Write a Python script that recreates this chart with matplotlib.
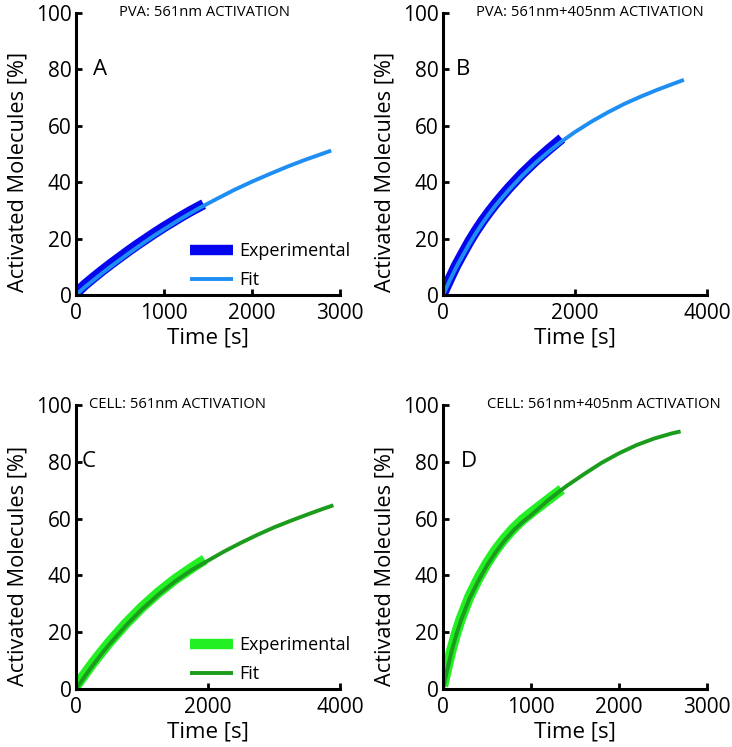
import matplotlib
matplotlib.use("Agg")
import matplotlib.pyplot as plt

plt.rcParams['font.family'] = ['Open Sans', 'DejaVu Sans']

# ---- data ----
# Panel A (PVA 561nm)
a_exp_t = [0, 100, 200, 300, 400, 500, 600, 700, 800, 900, 1000, 1100, 1200, 1300, 1450]
a_exp_y = [0.6, 3.6, 6.2, 8.7, 11.1, 13.4, 15.7, 17.9, 20.0, 22.1, 24.1, 26.0, 27.9, 29.7, 32.2]
a_fit_t = [0, 100, 200, 300, 400, 500, 600, 700, 800, 900, 1000, 1200, 1400, 1600, 1800,
           2000, 2200, 2400, 2600, 2800, 2900]
a_fit_y = [0, 2.8, 5.3, 7.8, 10.2, 12.5, 14.8, 17.0, 19.2, 21.3, 23.3, 27.2, 30.8, 34.1, 37.3,
           40.2, 42.9, 45.5, 47.9, 50.1, 51.2]

# Panel B (PVA 561nm+405nm)
b_exp_t = [0, 100, 200, 300, 400, 500, 600, 700, 800, 900, 1000, 1200, 1400, 1600, 1800]
b_exp_y = [0.5, 5.6, 10.5, 14.8, 19.0, 22.8, 26.3, 29.5, 32.5, 35.3, 38.0, 43.0, 47.5, 51.6, 55.5]
b_fit_t = [0, 100, 200, 300, 400, 500, 600, 700, 800, 900, 1000, 1200, 1400, 1600, 1800,
           2000, 2250, 2500, 2750, 3000, 3250, 3500, 3650]
b_fit_y = [0, 5.0, 9.8, 14.0, 18.2, 22.0, 25.5, 28.8, 31.8, 34.6, 37.3, 42.3, 46.8, 50.8, 54.5,
           57.8, 61.5, 64.8, 67.8, 70.4, 72.8, 75.0, 76.3]

# Panel C (CELL 561nm)
c_exp_t = [0, 125, 250, 375, 500, 750, 1000, 1250, 1500, 1750, 1950]
c_exp_y = [1.0, 5.0, 9.0, 12.7, 16.3, 22.9, 28.8, 34.0, 38.6, 42.6, 45.6]
c_fit_t = [0, 125, 250, 375, 500, 750, 1000, 1250, 1500, 1750, 2000, 2250, 2500, 2750,
           3000, 3250, 3500, 3750, 3900]
c_fit_y = [0, 4.2, 8.2, 12.0, 15.6, 22.2, 28.1, 33.3, 37.9, 41.9, 45.2, 48.5, 51.5, 54.3,
           56.9, 59.2, 61.4, 63.5, 64.7]

# Panel D (CELL 561nm+405nm)
d_exp_t = [0, 50, 100, 150, 200, 300, 400, 500, 600, 700, 800, 900, 1000, 1200, 1350]
d_exp_y = [1.0, 7.8, 14.2, 19.7, 24.5, 32.5, 38.8, 44.3, 49.0, 53.0, 56.5, 59.5, 62.0, 66.8, 70.3]
d_fit_t = [0, 50, 100, 150, 200, 300, 400, 500, 600, 700, 800, 900, 1000, 1200, 1400,
           1600, 1800, 2000, 2200, 2400, 2600, 2700]
d_fit_y = [0, 7.0, 13.5, 19.0, 23.8, 31.8, 38.0, 43.5, 48.2, 52.3, 55.8, 58.7, 61.2, 66.6, 71.4,
           75.6, 79.6, 83.0, 85.9, 88.2, 90.0, 90.7]

titles = ["PVA: 561nm ACTIVATION", "PVA: 561nm+405nm ACTIVATION",
          "CELL: 561nm ACTIVATION", "CELL: 561nm+405nm ACTIVATION"]
letters = ["A", "B", "C", "D"]
xlims = [3000, 4000, 4000, 3000]
xticks = [[0, 1000, 2000, 3000], [0, 2000, 4000], [0, 2000, 4000], [0, 1000, 2000, 3000]]
yticks = [0, 20, 40, 60, 80, 100]
legend_labels = ["Experimental", "Fit"]

blue_exp = "#0606ee"
blue_fit = "#1e8ef2"
green_exp = "#22f022"
green_fit = "#1c9c1c"

W, H = 732, 747
fig = plt.figure(figsize=(W / 100, H / 100), dpi=100)

rects = [
    (76, 13, 264, 282),
    (443, 13, 264, 282),
    (76, 405, 264, 284),
    (443, 405, 264, 284),
]
series = [
    (a_exp_t, a_exp_y, a_fit_t, a_fit_y, blue_exp, blue_fit),
    (b_exp_t, b_exp_y, b_fit_t, b_fit_y, blue_exp, blue_fit),
    (c_exp_t, c_exp_y, c_fit_t, c_fit_y, green_exp, green_fit),
    (d_exp_t, d_exp_y, d_fit_t, d_fit_y, green_exp, green_fit),
]
letter_x = [190, 200, 90, 205]
title_x = [490, 500, 200, 500]

for i, (rect, s) in enumerate(zip(rects, series)):
    x0, y0, w, h = rect
    ax = fig.add_axes([x0 / W, 1 - (y0 + h) / H, w / W, h / H])
    et, ey, ft, fy, ce, cf = s
    l1, = ax.plot(et, ey, color=ce, lw=7.5, solid_capstyle='butt', solid_joinstyle='round',
                  label=legend_labels[0])
    l2, = ax.plot(ft, fy, color=cf, lw=2.8, solid_capstyle='butt', solid_joinstyle='round',
                  label=legend_labels[1])
    ax.set_xlim(0, xlims[i])
    ax.set_ylim(0, 100)
    ax.set_xticks(xticks[i])
    ax.set_yticks(yticks)
    for sp in ['top', 'right']:
        ax.spines[sp].set_visible(False)
    for sp in ['left', 'bottom']:
        ax.spines[sp].set_linewidth(2.2)
    ax.tick_params(direction='in', length=4, width=2.0, labelsize=15)
    ax.tick_params(axis='x', pad=6)
    ax.tick_params(axis='y', pad=3)
    ax.set_xlabel("Time [s]", fontsize=16, labelpad=2)
    ax.set_ylabel("Activated Molecules [%]", fontsize=15.7)
    ax.yaxis.set_label_coords(-0.18, 0.435)
    ax.text(letter_x[i], 80, letters[i], fontsize=16, va='center', ha='left')
    ax.text(title_x[i], 100, titles[i], fontsize=10.6, va='center', ha='left')
    if i in (0, 2):
        ax.legend(handles=[l1, l2], loc='lower left', bbox_to_anchor=(0.43, 0.02),
                  frameon=False, fontsize=13, handlelength=2.4, handletextpad=0.35,
                  borderpad=0, borderaxespad=0, labelspacing=0.62)

fig.savefig("out.png", dpi=100)
